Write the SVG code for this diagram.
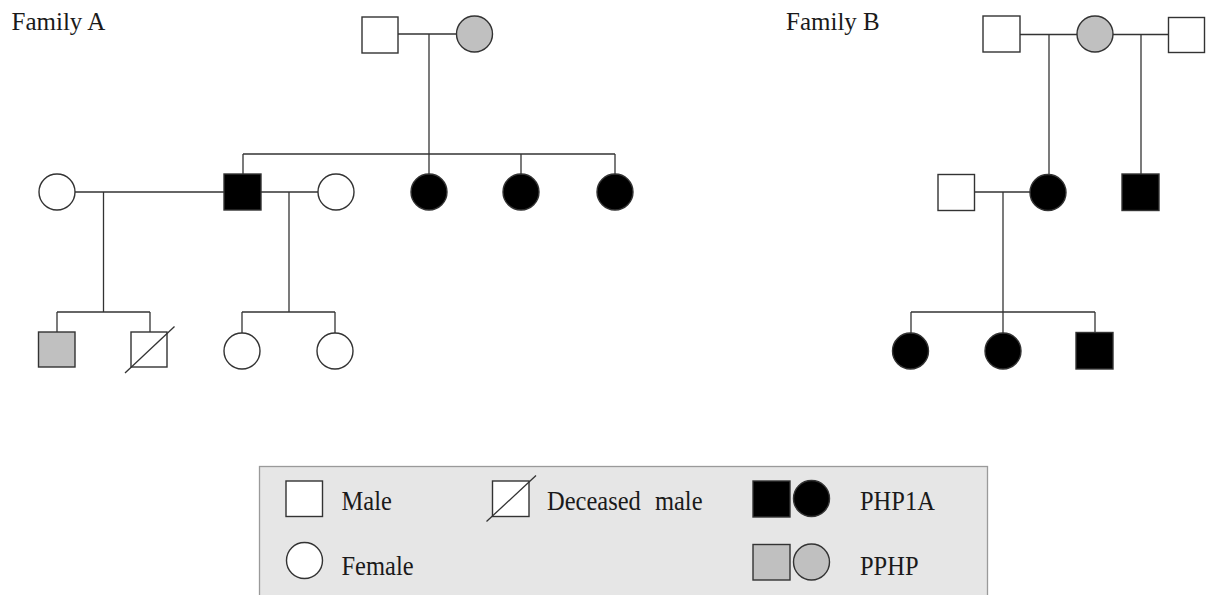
<svg xmlns="http://www.w3.org/2000/svg" width="1206" height="595" viewBox="0 0 1206 595">
<style>
  .sq { stroke: #333; stroke-width: 1.4; }
  .ci { stroke: #333; stroke-width: 1.4; }
  .wh { fill: #ffffff; }
  .gr { fill: #c0c0c0; }
  .bk { fill: #000000; }
  .ln { stroke: #333; stroke-width: 1.3; fill: none; }
  .lbl { font-family: "Liberation Serif", "Times New Roman", serif; font-size: 25px; fill: #1a1a1a; }
  .leg { font-family: "Liberation Serif", "Times New Roman", serif; font-size: 24.5px; fill: #1a1a1a; }
</style>
<rect width="1206" height="595" fill="#ffffff"/>

<text class="lbl" x="11.5" y="30">Family A</text>
<text class="lbl" x="786" y="30">Family B</text>

<g id="connectors">
  <!-- Family A -->
  <line class="ln" x1="398" y1="34" x2="456" y2="34"/>
  <line class="ln" x1="429" y1="34" x2="429" y2="154"/>
  <line class="ln" x1="243" y1="154" x2="615" y2="154"/>
  <line class="ln" x1="243" y1="154" x2="243" y2="174"/>
  <line class="ln" x1="429" y1="154" x2="429" y2="174"/>
  <line class="ln" x1="521" y1="154" x2="521" y2="174"/>
  <line class="ln" x1="615" y1="154" x2="615" y2="174"/>
  <line class="ln" x1="75" y1="192" x2="224" y2="192"/>
  <line class="ln" x1="103.5" y1="192" x2="103.5" y2="312"/>
  <line class="ln" x1="261" y1="192" x2="318" y2="192"/>
  <line class="ln" x1="289" y1="192" x2="289" y2="312"/>
  <line class="ln" x1="57" y1="312" x2="150" y2="312"/>
  <line class="ln" x1="57" y1="312" x2="57" y2="332"/>
  <line class="ln" x1="150" y1="312" x2="150" y2="332"/>
  <line class="ln" x1="242" y1="312" x2="335" y2="312"/>
  <line class="ln" x1="242" y1="312" x2="242" y2="333"/>
  <line class="ln" x1="335" y1="312" x2="335" y2="333"/>
  <!-- Family B -->
  <line class="ln" x1="1020" y1="34.5" x2="1077" y2="34.5"/>
  <line class="ln" x1="1113" y1="34.5" x2="1168" y2="34.5"/>
  <line class="ln" x1="1049" y1="34.5" x2="1049" y2="174"/>
  <line class="ln" x1="1141" y1="34.5" x2="1141" y2="174"/>
  <line class="ln" x1="974" y1="192" x2="1030" y2="192"/>
  <line class="ln" x1="1003" y1="192" x2="1003" y2="312"/>
  <line class="ln" x1="911" y1="312" x2="1095" y2="312"/>
  <line class="ln" x1="911" y1="312" x2="911" y2="333"/>
  <line class="ln" x1="1003" y1="312" x2="1003" y2="333"/>
  <line class="ln" x1="1095" y1="312" x2="1095" y2="333"/>
</g>

<!-- Family A nodes -->
<g id="A-I-1"><rect class="sq wh" x="362" y="17" width="36" height="36"/></g>
<g id="A-I-2"><circle class="ci gr" cx="474.5" cy="34" r="18"/></g>
<g id="A-II-1"><circle class="ci wh" cx="57" cy="192" r="18"/></g>
<g id="A-II-2"><rect class="sq bk" x="224" y="174" width="37" height="36"/></g>
<g id="A-II-3"><circle class="ci wh" cx="336" cy="192" r="18"/></g>
<g id="A-II-4"><circle class="ci bk" cx="429" cy="192" r="18"/></g>
<g id="A-II-5"><circle class="ci bk" cx="521" cy="192" r="18"/></g>
<g id="A-II-6"><circle class="ci bk" cx="615" cy="192" r="18"/></g>
<g id="A-III-1"><rect class="sq gr" x="38.5" y="332" width="36.5" height="35"/></g>
<g id="A-III-2"><rect class="sq wh" x="131" y="332" width="36" height="35"/>
  <line class="ln" x1="125" y1="373" x2="174.5" y2="326.5"/></g>
<g id="A-III-3"><circle class="ci wh" cx="242" cy="351" r="18"/></g>
<g id="A-III-4"><circle class="ci wh" cx="335" cy="351" r="18"/></g>

<!-- Family B nodes -->
<g id="B-I-1"><rect class="sq wh" x="983" y="16" width="37" height="36"/></g>
<g id="B-I-2"><circle class="ci gr" cx="1095" cy="34" r="18"/></g>
<g id="B-I-3"><rect class="sq wh" x="1168.5" y="17.5" width="36" height="35"/></g>
<g id="B-II-1"><rect class="sq wh" x="938" y="174.5" width="36.5" height="36"/></g>
<g id="B-II-2"><circle class="ci bk" cx="1048" cy="192.5" r="18"/></g>
<g id="B-II-3"><rect class="sq bk" x="1122" y="174" width="37" height="36.5"/></g>
<g id="B-III-1"><circle class="ci bk" cx="910.5" cy="351" r="18"/></g>
<g id="B-III-2"><circle class="ci bk" cx="1003" cy="351" r="18"/></g>
<g id="B-III-3"><rect class="sq bk" x="1076" y="332.5" width="37" height="36.5"/></g>

<!-- Legend -->
<g id="legend">
  <rect x="259.5" y="466.5" width="728" height="140" fill="#e6e6e6" stroke="#9a9a9a" stroke-width="1.3"/>
  <rect class="sq wh" x="286" y="481" width="36.5" height="35.5"/>
  <text class="leg" transform="translate(341.5,510) scale(1,1.12)">Male</text>
  <circle class="ci wh" cx="304.5" cy="560.5" r="18"/>
  <text class="leg" transform="translate(341.5,574.5) scale(1,1.12)">Female</text>
  <rect class="sq wh" x="492.5" y="481" width="36.5" height="35.5"/>
  <line class="ln" x1="486.5" y1="521.5" x2="536" y2="475.5"/>
  <text class="leg" word-spacing="8" transform="translate(547,510) scale(1,1.12)">Deceased male</text>
  <rect class="sq bk" x="753" y="481" width="37" height="36"/>
  <circle class="ci bk" cx="811.5" cy="498.5" r="18"/>
  <text class="leg" transform="translate(860,510) scale(1,1.12)">PHP1A</text>
  <rect class="sq gr" x="753" y="544.5" width="37" height="35.5"/>
  <circle class="ci gr" cx="811.5" cy="562" r="18"/>
  <text class="leg" transform="translate(860,574.5) scale(1,1.12)">PPHP</text>
</g>
</svg>
